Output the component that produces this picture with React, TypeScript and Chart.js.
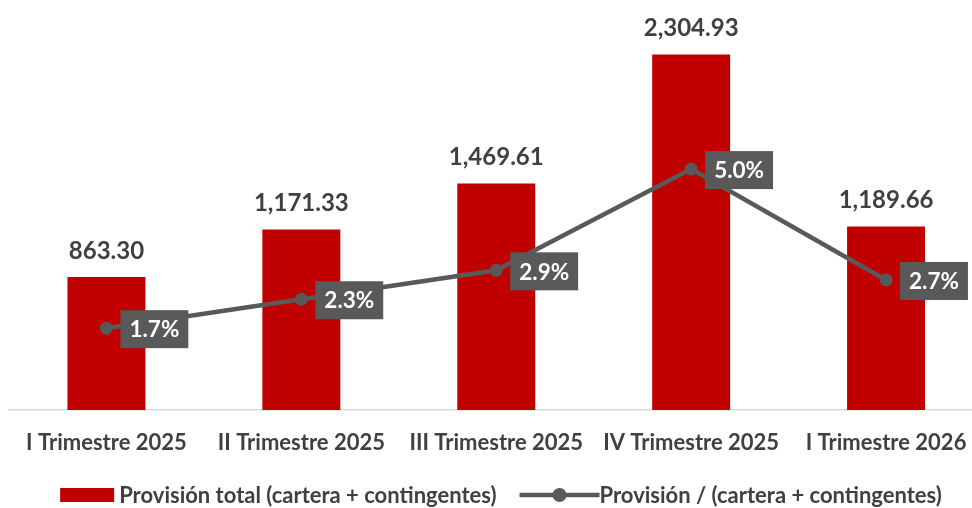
import React, { useEffect, useRef } from "react";
import { Chart, registerables } from "chart.js";

Chart.register(...registerables);

const categories = [
  "I Trimestre 2025",
  "II Trimestre 2025",
  "III Trimestre 2025",
  "IV Trimestre 2025",
  "I Trimestre 2026",
];
const provisionTotal = [863.3, 1171.33, 1469.61, 2304.93, 1189.66];
const provisionRatio = [1.7, 2.3, 2.9, 5.0, 2.7];
const barSeriesLabel = "Provisión total (cartera + contingentes)";
const lineSeriesLabel = "Provisión / (cartera + contingentes)";

const FONT = "Lato, 'Open Sans', sans-serif";
const RED = "#C00000";
const GRAY = "#595959";
const TEXT = "#404040";

const fmtNum = (v: number) =>
  v.toLocaleString("en-US", { minimumFractionDigits: 2, maximumFractionDigits: 2 });

const valueLabels = {
  id: "valueLabels",
  afterDatasetsDraw(chart: any) {
    const ctx = chart.ctx as CanvasRenderingContext2D;
    ctx.save();
    ctx.textBaseline = "middle";
    ctx.font = `bold 24px ${FONT}`;
    const barMeta = chart.getDatasetMeta(0);
    barMeta.data.forEach((el: any, i: number) => {
      const v = chart.data.datasets[0].data[i] as number;
      ctx.fillStyle = TEXT;
      ctx.textAlign = "center";
      ctx.fillText(fmtNum(v), el.x, el.y - 26);
    });
    ctx.font = `bold 22.5px ${FONT}`;
    const lineMeta = chart.getDatasetMeta(1);
    lineMeta.data.forEach((el: any, i: number) => {
      const v = chart.data.datasets[1].data[i] as number;
      const txt = v.toFixed(1) + "%";
      const w = ctx.measureText(txt).width + 18;
      const h = 38;
      const left = el.x + 14;
      const cy = el.y + 1;
      ctx.fillStyle = GRAY;
      ctx.fillRect(left, cy - h / 2, w, h);
      ctx.fillStyle = "#FFFFFF";
      ctx.textAlign = "left";
      ctx.fillText(txt, left + 9, cy + 1);
    });
    ctx.restore();
  },
};

const customLegend = {
  id: "customLegend",
  afterDraw(chart: any) {
    const ctx = chart.ctx as CanvasRenderingContext2D;
    const ds = chart.data.datasets;
    ctx.save();
    ctx.font = `bold 22px ${FONT}`;
    ctx.textBaseline = "middle";
    ctx.textAlign = "left";
    const y = 495;
    const boxW = 54;
    const lineW = 80;
    const t1 = ctx.measureText(ds[0].label).width;
    const t2 = ctx.measureText(ds[1].label).width;
    const total = boxW + 5 + t1 + 23 + lineW + 0 + t2;
    let x = 501 - total / 2;
    ctx.fillStyle = ds[0].backgroundColor;
    ctx.fillRect(x, y - 7, boxW, 14);
    x += boxW + 5;
    ctx.fillStyle = TEXT;
    ctx.fillText(ds[0].label, x, y + 1);
    x += t1 + 23;
    ctx.strokeStyle = ds[1].borderColor;
    ctx.lineWidth = 4.5;
    ctx.beginPath();
    ctx.moveTo(x, y);
    ctx.lineTo(x + lineW, y);
    ctx.stroke();
    ctx.fillStyle = ds[1].borderColor;
    ctx.beginPath();
    ctx.arc(x + lineW / 2, y, 7, 0, Math.PI * 2);
    ctx.fill();
    x += lineW;
    ctx.fillStyle = TEXT;
    ctx.fillText(ds[1].label, x, y + 1);
    ctx.restore();
  },
};

export default function App() {
  const canvasRef = useRef<HTMLCanvasElement | null>(null);

  useEffect(() => {
    if (!canvasRef.current) return;
    const chart = new Chart(canvasRef.current, {
      data: {
        labels: categories,
        datasets: [
          {
            type: "bar",
            label: barSeriesLabel,
            data: provisionTotal,
            backgroundColor: RED,
            barPercentage: 0.4,
            categoryPercentage: 1,
            yAxisID: "y",
            order: 1,
          },
          {
            type: "line",
            label: lineSeriesLabel,
            data: provisionRatio,
            borderColor: GRAY,
            backgroundColor: GRAY,
            borderWidth: 4.5,
            pointRadius: 6.5,
            pointBackgroundColor: GRAY,
            pointBorderWidth: 0,
            yAxisID: "y1",
            order: 0,
          },
        ] as any,
      },
      options: {
        responsive: false,
        animation: false,
        layout: { padding: { left: 9, right: 1, top: 24.5, bottom: 31.5 } },
        plugins: {
          legend: { display: false },
          tooltip: { enabled: false },
        },
        scales: {
          x: {
            grid: { display: false, drawTicks: false },
            border: { display: true, color: "#D9D9D9", width: 1.5 },
            ticks: {
              color: TEXT,
              font: { family: FONT, size: 22, weight: "bold" },
              padding: 20,
              maxRotation: 0,
              autoSkip: false,
            },
          },
          y: { display: false, min: 0, max: 2500 },
          y1: { display: false, min: 0, max: 8, position: "right" },
        },
      } as any,
      plugins: [valueLabels, customLegend],
    });
    return () => chart.destroy();
  }, []);

  return (
    <div
      style={{
        position: "fixed",
        left: 0,
        top: 0,
        width: 972,
        height: 508,
        overflow: "hidden",
        background: "#FFFFFF",
      }}
    >
      <canvas ref={canvasRef} width={990} height={508} style={{ display: "block" }} />
    </div>
  );
}
